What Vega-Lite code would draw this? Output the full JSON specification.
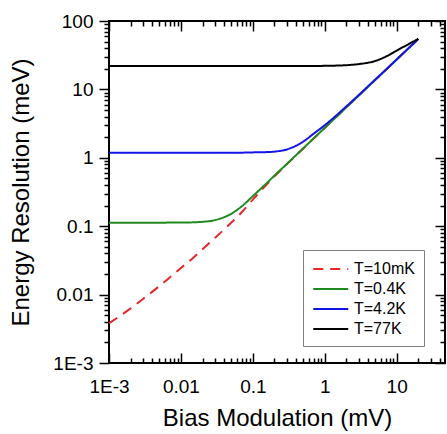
{
  "$schema": "https://vega.github.io/schema/vega-lite/v6.json",
  "width": 336,
  "height": 342,
  "autosize": {"type": "none"},
  "padding": {"left": 109, "top": 21, "right": 2, "bottom": 71},
  "background": "white",
  "config": {
    "font": "Liberation Sans",
    "view": {"stroke": "black", "strokeWidth": 2},
    "axis": {
      "grid": false,
      "domain": false,
      "tickColor": "black",
      "tickWidth": 1.5,
      "labelColor": "black",
      "labelFont": "Liberation Sans",
      "labelFontSize": 19,
      "labelFlush": false,
      "labelOverlap": false,
      "titleFont": "Liberation Sans",
      "titleFontSize": 24,
      "titleFontWeight": "normal",
      "titleColor": "black"
    }
  },
  "data": {
    "values": [
      {"x": 0.001, "y": 0.0038, "series": "T=10mK"},
      {"x": 0.002, "y": 0.0063, "series": "T=10mK"},
      {"x": 0.003, "y": 0.0087, "series": "T=10mK"},
      {"x": 0.005, "y": 0.0133, "series": "T=10mK"},
      {"x": 0.007, "y": 0.0178, "series": "T=10mK"},
      {"x": 0.01, "y": 0.0245, "series": "T=10mK"},
      {"x": 0.015, "y": 0.035, "series": "T=10mK"},
      {"x": 0.02, "y": 0.046, "series": "T=10mK"},
      {"x": 0.03, "y": 0.068, "series": "T=10mK"},
      {"x": 0.05, "y": 0.112, "series": "T=10mK"},
      {"x": 0.07, "y": 0.16, "series": "T=10mK"},
      {"x": 0.1, "y": 0.245, "series": "T=10mK"},
      {"x": 0.15, "y": 0.39, "series": "T=10mK"},
      {"x": 0.2, "y": 0.535, "series": "T=10mK"},
      {"x": 0.3, "y": 0.815, "series": "T=10mK"},
      {"x": 0.5, "y": 1.36, "series": "T=10mK"},
      {"x": 0.7, "y": 1.91, "series": "T=10mK"},
      {"x": 1, "y": 2.73, "series": "T=10mK"},
      {"x": 1.5, "y": 4.1, "series": "T=10mK"},
      {"x": 2, "y": 5.47, "series": "T=10mK"},
      {"x": 3, "y": 8.2, "series": "T=10mK"},
      {"x": 5, "y": 13.7, "series": "T=10mK"},
      {"x": 7, "y": 19.1, "series": "T=10mK"},
      {"x": 10, "y": 27.3, "series": "T=10mK"},
      {"x": 15, "y": 41, "series": "T=10mK"},
      {"x": 20, "y": 54.6, "series": "T=10mK"},

      {"x": 0.001, "y": 0.112, "series": "T=0.4K"},
      {"x": 0.002, "y": 0.112, "series": "T=0.4K"},
      {"x": 0.003, "y": 0.112, "series": "T=0.4K"},
      {"x": 0.005, "y": 0.112, "series": "T=0.4K"},
      {"x": 0.007, "y": 0.113, "series": "T=0.4K"},
      {"x": 0.01, "y": 0.113, "series": "T=0.4K"},
      {"x": 0.015, "y": 0.114, "series": "T=0.4K"},
      {"x": 0.02, "y": 0.116, "series": "T=0.4K"},
      {"x": 0.03, "y": 0.123, "series": "T=0.4K"},
      {"x": 0.05, "y": 0.152, "series": "T=0.4K"},
      {"x": 0.07, "y": 0.195, "series": "T=0.4K"},
      {"x": 0.1, "y": 0.275, "series": "T=0.4K"},
      {"x": 0.15, "y": 0.41, "series": "T=0.4K"},
      {"x": 0.2, "y": 0.55, "series": "T=0.4K"},
      {"x": 0.3, "y": 0.82, "series": "T=0.4K"},
      {"x": 0.5, "y": 1.37, "series": "T=0.4K"},
      {"x": 0.7, "y": 1.92, "series": "T=0.4K"},
      {"x": 1, "y": 2.74, "series": "T=0.4K"},
      {"x": 1.5, "y": 4.1, "series": "T=0.4K"},
      {"x": 2, "y": 5.47, "series": "T=0.4K"},
      {"x": 3, "y": 8.2, "series": "T=0.4K"},
      {"x": 5, "y": 13.7, "series": "T=0.4K"},
      {"x": 7, "y": 19.1, "series": "T=0.4K"},
      {"x": 10, "y": 27.3, "series": "T=0.4K"},
      {"x": 15, "y": 41, "series": "T=0.4K"},
      {"x": 20, "y": 54.6, "series": "T=0.4K"},

      {"x": 0.001, "y": 1.19, "series": "T=4.2K"},
      {"x": 0.002, "y": 1.19, "series": "T=4.2K"},
      {"x": 0.003, "y": 1.19, "series": "T=4.2K"},
      {"x": 0.005, "y": 1.19, "series": "T=4.2K"},
      {"x": 0.007, "y": 1.19, "series": "T=4.2K"},
      {"x": 0.01, "y": 1.19, "series": "T=4.2K"},
      {"x": 0.015, "y": 1.19, "series": "T=4.2K"},
      {"x": 0.02, "y": 1.19, "series": "T=4.2K"},
      {"x": 0.03, "y": 1.19, "series": "T=4.2K"},
      {"x": 0.05, "y": 1.19, "series": "T=4.2K"},
      {"x": 0.07, "y": 1.19, "series": "T=4.2K"},
      {"x": 0.1, "y": 1.2, "series": "T=4.2K"},
      {"x": 0.15, "y": 1.21, "series": "T=4.2K"},
      {"x": 0.2, "y": 1.23, "series": "T=4.2K"},
      {"x": 0.3, "y": 1.33, "series": "T=4.2K"},
      {"x": 0.5, "y": 1.72, "series": "T=4.2K"},
      {"x": 0.7, "y": 2.25, "series": "T=4.2K"},
      {"x": 1, "y": 3.0, "series": "T=4.2K"},
      {"x": 1.5, "y": 4.3, "series": "T=4.2K"},
      {"x": 2, "y": 5.65, "series": "T=4.2K"},
      {"x": 3, "y": 8.35, "series": "T=4.2K"},
      {"x": 5, "y": 13.8, "series": "T=4.2K"},
      {"x": 7, "y": 19.2, "series": "T=4.2K"},
      {"x": 10, "y": 27.4, "series": "T=4.2K"},
      {"x": 15, "y": 41, "series": "T=4.2K"},
      {"x": 20, "y": 54.6, "series": "T=4.2K"},

      {"x": 0.001, "y": 22, "series": "T=77K"},
      {"x": 0.002, "y": 22, "series": "T=77K"},
      {"x": 0.003, "y": 22, "series": "T=77K"},
      {"x": 0.005, "y": 22, "series": "T=77K"},
      {"x": 0.007, "y": 22, "series": "T=77K"},
      {"x": 0.01, "y": 22, "series": "T=77K"},
      {"x": 0.015, "y": 22, "series": "T=77K"},
      {"x": 0.02, "y": 22, "series": "T=77K"},
      {"x": 0.03, "y": 22, "series": "T=77K"},
      {"x": 0.05, "y": 22, "series": "T=77K"},
      {"x": 0.07, "y": 22, "series": "T=77K"},
      {"x": 0.1, "y": 22, "series": "T=77K"},
      {"x": 0.15, "y": 22, "series": "T=77K"},
      {"x": 0.2, "y": 22, "series": "T=77K"},
      {"x": 0.3, "y": 22, "series": "T=77K"},
      {"x": 0.5, "y": 22, "series": "T=77K"},
      {"x": 0.7, "y": 22, "series": "T=77K"},
      {"x": 1, "y": 22.1, "series": "T=77K"},
      {"x": 1.5, "y": 22.3, "series": "T=77K"},
      {"x": 2, "y": 22.6, "series": "T=77K"},
      {"x": 3, "y": 23.5, "series": "T=77K"},
      {"x": 5, "y": 26, "series": "T=77K"},
      {"x": 7, "y": 30, "series": "T=77K"},
      {"x": 10, "y": 37, "series": "T=77K"},
      {"x": 15, "y": 46.5, "series": "T=77K"},
      {"x": 20, "y": 55, "series": "T=77K"}
    ]
  },
  "resolve": {"axis": {"x": "independent", "y": "independent"}},
  "layer": [
    {
      "mark": {"type": "line", "strokeWidth": 2, "interpolate": "monotone"},
      "encoding": {
        "x": {
          "field": "x", "type": "quantitative",
          "scale": {"type": "log", "domain": [0.001, 47], "nice": false},
          "axis": {
            "orient": "bottom",
            "values": [0.001, 0.002, 0.003, 0.004, 0.005, 0.006, 0.007, 0.008, 0.009, 0.01, 0.02, 0.03, 0.04, 0.05, 0.06, 0.07, 0.08, 0.09, 0.1, 0.2, 0.3, 0.4, 0.5, 0.6, 0.7, 0.8, 0.9, 1, 2, 3, 4, 5, 6, 7, 8, 9, 10, 20, 30, 40],
            "tickSize": {"condition": {"test": "abs(log(datum.value)/LN10 - round(log(datum.value)/LN10)) < 0.01", "value": -10}, "value": -5},
            "labelPadding": 24,
            "labelExpr": "abs(log(datum.value)/LN10 - round(log(datum.value)/LN10)) > 0.01 ? '' : datum.value < 0.002 ? '1E-3' : datum.value < 0.02 ? '0.01' : datum.value < 0.2 ? '0.1' : datum.value < 2 ? '1' : datum.value < 20 ? '10' : '100'",
            "title": "Bias Modulation (mV)",
            "titleX": 168,
            "titleY": 62,
            "titleAlign": "center",
            "titleBaseline": "alphabetic"
          }
        },
        "y": {
          "field": "y", "type": "quantitative",
          "scale": {"type": "log", "domain": [0.001, 100], "nice": false},
          "axis": {
            "orient": "left",
            "values": [0.001, 0.002, 0.003, 0.004, 0.005, 0.006, 0.007, 0.008, 0.009, 0.01, 0.02, 0.03, 0.04, 0.05, 0.06, 0.07, 0.08, 0.09, 0.1, 0.2, 0.3, 0.4, 0.5, 0.6, 0.7, 0.8, 0.9, 1, 2, 3, 4, 5, 6, 7, 8, 9, 10, 20, 30, 40, 50, 60, 70, 80, 90, 100],
            "tickSize": {"condition": {"test": "abs(log(datum.value)/LN10 - round(log(datum.value)/LN10)) < 0.01", "value": 10}, "value": 5},
            "labelPadding": 6,
            "labelExpr": "abs(log(datum.value)/LN10 - round(log(datum.value)/LN10)) > 0.01 ? '' : datum.value < 0.002 ? '1E-3' : datum.value < 0.02 ? '0.01' : datum.value < 0.2 ? '0.1' : datum.value < 2 ? '1' : datum.value < 20 ? '10' : '100'",
            "title": "Energy Resolution (meV)",
            "titleX": -81,
            "titleY": 171,
            "titleAngle": -90,
            "titleAlign": "center",
            "titleBaseline": "alphabetic"
          }
        },
        "color": {
          "field": "series", "type": "nominal",
          "scale": {"domain": ["T=10mK", "T=0.4K", "T=4.2K", "T=77K"], "range": ["#e8262b", "#1f8a1f", "#1414e6", "#000000"]},
          "legend": {
            "title": null,
            "orient": "none",
            "legendX": 194,
            "legendY": 229,
            "strokeColor": "#808080",
            "fillColor": "white",
            "padding": 9,
            "symbolType": "M-1,0H3",
            "symbolSize": 306,
            "symbolStrokeWidth": 2,
            "labelFontSize": 16,
            "labelFont": "Liberation Sans",
            "labelColor": "black",
            "labelOffset": 22,
            "rowPadding": 2
          }
        },
        "strokeDash": {
          "field": "series", "type": "nominal",
          "scale": {"domain": ["T=10mK", "T=0.4K", "T=4.2K", "T=77K"], "range": [[10, 7], [1, 0], [1, 0], [1, 0]]}
        }
      }
    },
    {
      "mark": {"type": "line", "strokeOpacity": 0},
      "encoding": {
        "x": {
          "field": "x", "type": "quantitative",
          "axis": {
            "orient": "top",
            "values": [0.001, 0.002, 0.003, 0.004, 0.005, 0.006, 0.007, 0.008, 0.009, 0.01, 0.02, 0.03, 0.04, 0.05, 0.06, 0.07, 0.08, 0.09, 0.1, 0.2, 0.3, 0.4, 0.5, 0.6, 0.7, 0.8, 0.9, 1, 2, 3, 4, 5, 6, 7, 8, 9, 10, 20, 30, 40],
            "tickSize": {"condition": {"test": "abs(log(datum.value)/LN10 - round(log(datum.value)/LN10)) < 0.01", "value": -10}, "value": -5},
            "labels": false,
            "title": null
          }
        },
        "y": {
          "field": "y", "type": "quantitative",
          "axis": {
            "orient": "right",
            "values": [0.001, 0.002, 0.003, 0.004, 0.005, 0.006, 0.007, 0.008, 0.009, 0.01, 0.02, 0.03, 0.04, 0.05, 0.06, 0.07, 0.08, 0.09, 0.1, 0.2, 0.3, 0.4, 0.5, 0.6, 0.7, 0.8, 0.9, 1, 2, 3, 4, 5, 6, 7, 8, 9, 10, 20, 30, 40, 50, 60, 70, 80, 90, 100],
            "tickSize": {"condition": {"test": "abs(log(datum.value)/LN10 - round(log(datum.value)/LN10)) < 0.01", "value": -10}, "value": -5},
            "labels": false,
            "title": null
          }
        },
        "detail": {"field": "series"}
      }
    }
  ]
}
